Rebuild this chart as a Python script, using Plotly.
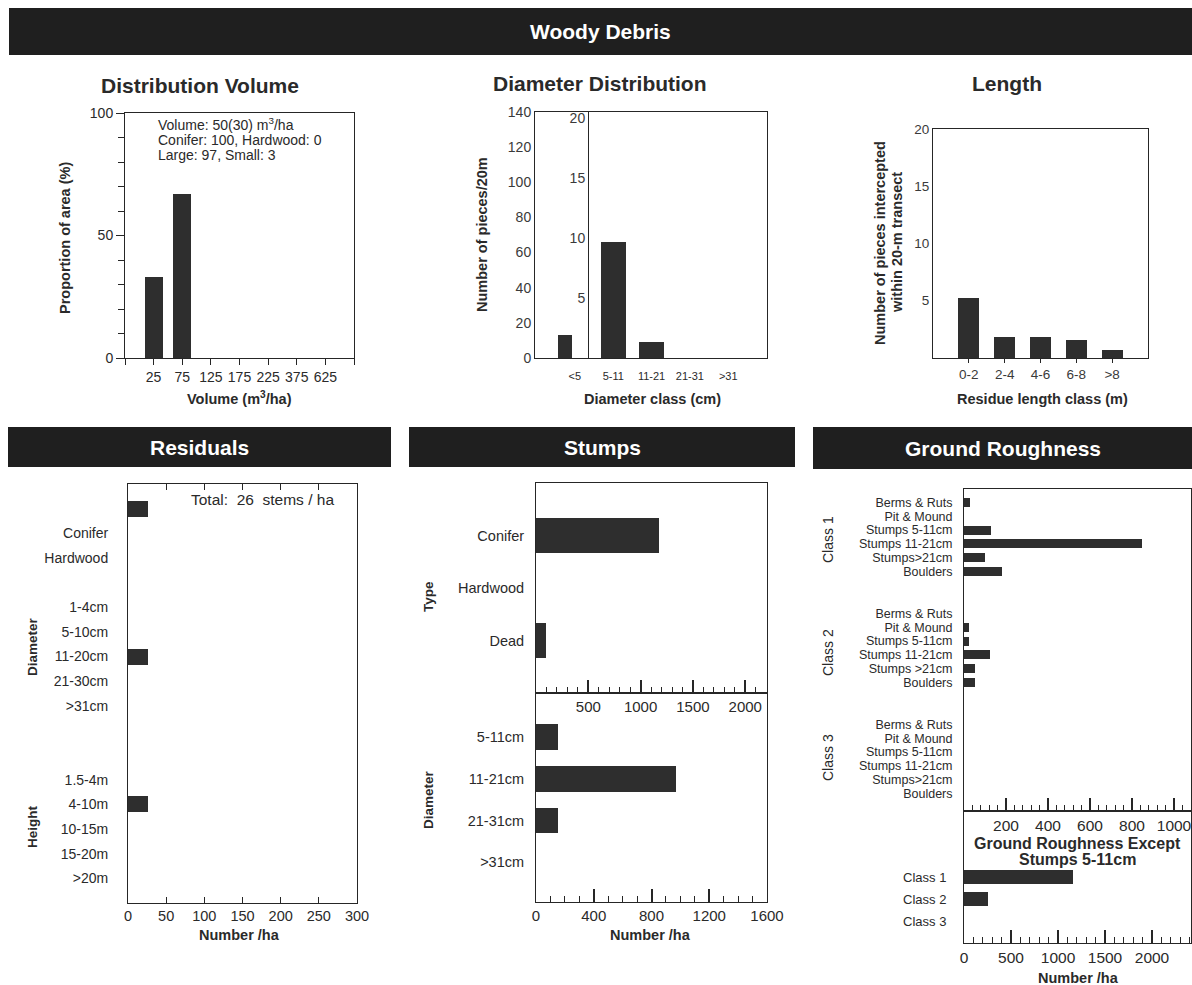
import plotly.graph_objects as go

W, H = 1192, 985

# ---------------- data ----------------
vol_classes = ["25", "75", "125", "175", "225", "375", "625"]
vol_share = [33, 67, 0, 0, 0, 0, 0]
vol_notes = ["Volume: 50(30) m<sup>3</sup>/ha", "Conifer: 100, Hardwood: 0", "Large: 97, Small: 3"]

diam_classes = ["<5", "5-11", "11-21", "21-31", ">31"]
diam_small = [13]                 # <5 cm, read on the 0-140 scale
diam_large = [9.7, 1.3, 0, 0]     # remaining classes, read on the 0-20 scale

len_classes = ["0-2", "2-4", "4-6", "6-8", ">8"]
len_pieces = [5.2, 1.8, 1.8, 1.6, 0.7]

res_rows = ["", "Conifer", "Hardwood",
            "1-4cm", "5-10cm", "11-20cm", "21-30cm", ">31cm",
            "1.5-4m", "4-10m", "10-15m", "15-20m", ">20m"]
res_values = [26, 0, 0, 0, 0, 26, 0, 0, 0, 26, 0, 0, 0]
res_group_sizes = [3, 5, 5]
res_total = 26

stump_types = ["Conifer", "Hardwood", "Dead"]
stump_type_values = [1175, 0, 100]
stump_diams = ["5-11cm", "11-21cm", "21-31cm", ">31cm"]
stump_diam_values = [150, 970, 150, 0]

gr_classes = ["Class 1", "Class 2", "Class 3"]
gr_feat_1 = ["Berms & Ruts", "Pit & Mound", "Stumps 5-11cm", "Stumps 11-21cm", "Stumps>21cm", "Boulders"]
gr_feat_2 = ["Berms & Ruts", "Pit & Mound", "Stumps 5-11cm", "Stumps 11-21cm", "Stumps >21cm", "Boulders"]
gr_feat_3 = ["Berms & Ruts", "Pit & Mound", "Stumps 5-11cm", "Stumps 11-21cm", "Stumps>21cm", "Boulders"]
gr_vals_1 = [30, 0, 130, 850, 100, 180]
gr_vals_2 = [0, 25, 25, 125, 50, 50]
gr_vals_3 = [0, 0, 0, 0, 0, 0]
gr_except_values = [1160, 250, 0]

# ---------------- style ----------------
FONT = "Liberation Sans, Arial, Helvetica, sans-serif"
NARROW = "Liberation Sans Narrow, Arial Narrow, Liberation Sans, sans-serif"
LINE = "#262626"
TXT = "#2a2a2a"
BAR = "#2e2e2e"
HEAD = "#1f1f1f"


def px(x):
    return x / W


def py(y):
    return 1 - y / H


def dom_x(a, b):
    return [px(a), px(b)]


def dom_y(top, bottom):
    return [py(bottom), py(top)]


def axis(**kw):
    base = dict(showline=True, linecolor=LINE, linewidth=1, showgrid=False,
                zeroline=False, ticks="", fixedrange=True, automargin=False,
                tickfont=dict(family=FONT, size=13.5, color=TXT))
    base.update(kw)
    return base


fig = go.Figure()


def note(text, x, y, size=14, bold=False, color=TXT, anchor="center",
         angle=0, family=FONT):
    fig.add_annotation(text=f"<b>{text}</b>" if bold else text,
                       x=px(x), xref="paper", y=py(y), yref="paper",
                       showarrow=False, xanchor=anchor, yanchor="middle",
                       textangle=angle,
                       font=dict(family=family, size=size, color=color))


def header(x0, x1, y0, y1, text, size=21):
    fig.add_shape(type="rect", xref="paper", yref="paper",
                  x0=px(x0), x1=px(x1), y0=py(y1), y1=py(y0),
                  fillcolor=HEAD, line=dict(width=0), layer="below")
    note(text, (x0 + x1) / 2, (y0 + y1) / 2, size=size, bold=True, color="white")


def hbar(y, x, width, xa, ya):
    fig.add_trace(go.Bar(y=y, x=x, orientation="h", width=width,
                         marker=dict(color=BAR, line=dict(width=0)),
                         xaxis=xa, yaxis=ya))


# ---------------- Woody Debris: distribution volume ----------------
fig.add_trace(go.Bar(x=list(range(len(vol_classes))), y=vol_share, width=0.63,
                     marker=dict(color=BAR, line=dict(width=0)),
                     xaxis="x", yaxis="y"))

# ---------------- Woody Debris: diameter distribution ----------------
fig.add_trace(go.Bar(x=[0], y=diam_small, width=0.37, offset=-0.45,
                     marker=dict(color=BAR, line=dict(width=0)),
                     xaxis="x2", yaxis="y2"))
fig.add_trace(go.Bar(x=list(range(1, len(diam_classes))), y=diam_large, width=0.65,
                     marker=dict(color=BAR, line=dict(width=0)),
                     xaxis="x2", yaxis="y3"))

# ---------------- Woody Debris: length ----------------
fig.add_trace(go.Bar(x=list(range(len(len_classes))), y=len_pieces, width=0.59,
                     marker=dict(color=BAR, line=dict(width=0)),
                     xaxis="x3", yaxis="y4"))

# ---------------- Residuals ----------------
res_slots = []
pos = 0
for i, n in enumerate(res_group_sizes):
    res_slots.extend(range(pos, pos + n))
    pos += n + [1, 2, 0][i]
hbar(res_slots, res_values, 0.65, "x4", "y5")
res_tick_pos = [s for s, t in zip(res_slots, res_rows) if t]
res_tick_txt = [t for t in res_rows if t]

# ---------------- Stumps ----------------
hbar(list(range(len(stump_types))), stump_type_values, 0.65, "x5", "y6")
hbar(list(range(len(stump_diams))), stump_diam_values, 0.62, "x6", "y7")

# ---------------- Ground roughness ----------------
GROUP_STRIDE = 8.1
gr_feats = [gr_feat_1, gr_feat_2, gr_feat_3]
gr_vals = [gr_vals_1, gr_vals_2, gr_vals_3]
gr_pos, gr_text, gr_x = [], [], []
for g in range(3):
    for i in range(len(gr_feats[g])):
        gr_pos.append(g * GROUP_STRIDE + i)
        gr_text.append(gr_feats[g][i])
        gr_x.append(gr_vals[g][i])
hbar(gr_pos, gr_x, 0.65, "x7", "y8")
hbar(list(range(len(gr_classes))), gr_except_values, 0.68, "x8", "y9")

# ---------------- axes ----------------
minor_in = lambda d: dict(ticks="inside", ticklen=6, dtick=d, tickcolor=LINE, tickwidth=1)

fig.update_layout(
    # distribution volume
    xaxis=axis(domain=dom_x(125, 354), anchor="y", range=[-1, 7], mirror=True,
               tickvals=list(range(7)), ticktext=vol_classes,
               ticks="outside", ticklen=6, tickcolor=LINE,
               minor=dict(ticks="outside", ticklen=6, tickvals=[-1, 7], tickcolor=LINE),
               tickfont=dict(family=FONT, size=14, color=TXT)),
    yaxis=axis(domain=dom_y(113, 358), anchor="x", range=[0, 100], mirror=True,
               tickvals=[0, 50, 100], ticks="outside", ticklen=8, tickcolor=LINE,
               tickfont=dict(family=FONT, size=14, color=TXT),
               minor=dict(ticks="outside", ticklen=6, dtick=10, tickcolor=LINE)),
    # diameter distribution
    xaxis2=axis(domain=dom_x(535, 767), anchor="y2", range=[-1.04, 5.01], mirror=True,
                tickvals=list(range(5)), ticktext=diam_classes, ticklabelstandoff=8,
                tickfont=dict(family=FONT, size=11, color=TXT)),
    yaxis2=axis(domain=dom_y(112, 358), anchor="x2", range=[0, 140], dtick=20,
                mirror=True, tickfont=dict(family=FONT, size=14, color="#3a3a3a")),
    yaxis3=axis(overlaying="y2", anchor="free", position=px(588), side="left",
                range=[0, 20.5], tickvals=[5, 10, 15, 20],
                tickfont=dict(family=FONT, size=14, color="#3a3a3a")),
    # length
    xaxis3=axis(domain=dom_x(933, 1148), anchor="y4", range=[-1, 5], mirror=True,
                tickvals=list(range(5)), ticktext=len_classes,
                ticks="outside", ticklen=4, tickcolor=LINE,
                tickfont=dict(family=FONT, size=13.5, color="#3a3a3a")),
    yaxis4=axis(domain=dom_y(129, 358), anchor="x3", range=[0, 20], mirror=True,
                tickvals=[5, 10, 15, 20],
                tickfont=dict(family=FONT, size=13.5, color="#3a3a3a")),
    # residuals
    xaxis4=axis(domain=dom_x(128, 357), anchor="y5", range=[0, 300], dtick=50,
                ticks="inside", ticklen=6, tickcolor=LINE, mirror="ticks",
                tickfont=dict(family=FONT, size=14.5, color=TXT)),
    yaxis5=axis(domain=dom_y(484, 903), anchor="x4", range=[16, -1], mirror=True,
                tickvals=res_tick_pos, ticktext=res_tick_txt, ticklabelstandoff=16,
                tickfont=dict(family=FONT, size=14, color=TXT)),
    # stumps
    xaxis5=axis(domain=dom_x(536, 767), anchor="y6", range=[0, 2208], mirror=True,
                tickvals=[500, 1000, 1500, 2000], ticks="inside", ticklen=13,
                tickcolor=LINE, tickwidth=1.5, minor=minor_in(100),
                tickfont=dict(family=FONT, size=15, color=TXT)),
    yaxis6=axis(domain=dom_y(483, 693), anchor="x5", range=[3, -1], mirror=True,
                tickvals=list(range(3)), ticktext=stump_types, ticklabelstandoff=8,
                tickfont=dict(family=FONT, size=14.5, color=TXT)),
    xaxis6=axis(domain=dom_x(536, 767), anchor="y7", range=[0, 1600], mirror=True,
                dtick=400, ticks="inside", ticklen=13, tickcolor=LINE, tickwidth=1.5,
                minor=minor_in(100),
                tickfont=dict(family=FONT, size=15, color=TXT)),
    yaxis7=axis(domain=dom_y(693, 902), anchor="x6", range=[3.95, -1.05], mirror=True,
                tickvals=list(range(4)), ticktext=stump_diams, ticklabelstandoff=8,
                tickfont=dict(family=FONT, size=14.5, color=TXT)),
    # ground roughness
    xaxis7=axis(domain=dom_x(964, 1191), anchor="y8", range=[0, 1081], mirror=True,
                tickvals=[200, 400, 600, 800, 1000], ticks="inside", ticklen=13,
                tickcolor=LINE, tickwidth=1.5, minor=minor_in(40),
                tickfont=dict(family=FONT, size=15.5, color=TXT)),
    yaxis8=axis(domain=dom_y(489, 811), anchor="x7", range=[22.5, -1], mirror=True,
                tickvals=gr_pos, ticktext=gr_text, ticklabelstandoff=8,
                tickfont=dict(family=NARROW, size=12.5, color=TXT)),
    xaxis8=axis(domain=dom_x(964, 1191), anchor="y9", range=[0, 2415], mirror=True,
                tickvals=[0, 500, 1000, 1500, 2000], ticks="inside", ticklen=13,
                tickcolor=LINE, tickwidth=1.5, minor=minor_in(100),
                tickfont=dict(family=FONT, size=15.5, color=TXT)),
    yaxis9=axis(domain=dom_y(811, 943), anchor="x8", range=[3, -3], mirror=True,
                tickvals=list(range(3)), ticktext=gr_classes, ticklabelstandoff=14,
                tickfont=dict(family=NARROW, size=13, color=TXT)),
)

# ---------------- headers and titles ----------------
header(9, 1192, 8, 55, "Woody Debris")
header(8, 391, 427, 467, "Residuals")
header(409, 795, 427, 467, "Stumps")
header(813, 1192, 427, 469, "Ground Roughness")

note("Distribution Volume", 200, 85, size=21, bold=True)
note("Diameter Distribution", 600, 83, size=21, bold=True)
note("Length", 1007, 84, size=21, bold=True)

# distribution volume texts
for k, line in enumerate(vol_notes):
    note(line, 156, 124 + 15.5 * k, size=14, anchor="left")
note("Volume (m<sup>3</sup>/ha)", 240, 398, size=14.5, bold=True)
note("Proportion of area (%)", 65, 238, size=14.5, bold=True, angle=-90)

# diameter distribution texts
note("Diameter class (cm)", 652, 399, size=14.5, bold=True)
note("Number of pieces/20m", 482, 235, size=14.5, bold=True, angle=-90)

# length texts
note("Residue length class (m)", 1042, 399, size=14.5, bold=True)
note("Number of pieces intercepted", 880, 243, size=14.5, bold=True, angle=-90)
note("within 20-m transect", 897, 243, size=14.5, bold=True, angle=-90)

# residuals texts
note(f"Total:  {res_total}  stems / ha", 262, 500, size=15.5)
note("Diameter", 32, 647, size=13.5, bold=True, angle=-90)
note("Height", 32, 827, size=13.5, bold=True, angle=-90)
note("Number /ha", 240, 935, size=14.5, bold=True)

# stumps texts
note("Type", 428, 597, size=13.5, bold=True, angle=-90)
note("Diameter", 428, 800, size=13.5, bold=True, angle=-90)
note("Number /ha", 650, 935, size=14.5, bold=True)

# ground roughness texts
note("Class 1", 828, 540, size=14, angle=-90, family=NARROW)
note("Class 2", 828, 653, size=14, angle=-90, family=NARROW)
note("Class 3", 828, 758, size=14, angle=-90, family=NARROW)
note("Ground Roughness Except", 1077, 843, size=16, bold=True)
note("Stumps 5-11cm", 1077, 859, size=16, bold=True)
note("Number /ha", 1078, 978, size=14.5, bold=True)

fig.update_layout(
    width=W, height=H, margin=dict(l=0, r=0, t=0, b=0),
    paper_bgcolor="white", plot_bgcolor="rgba(0,0,0,0)",
    showlegend=False, barmode="overlay", bargap=0,
    font=dict(family=FONT, color=TXT),
)

fig.write_html("out.html")
